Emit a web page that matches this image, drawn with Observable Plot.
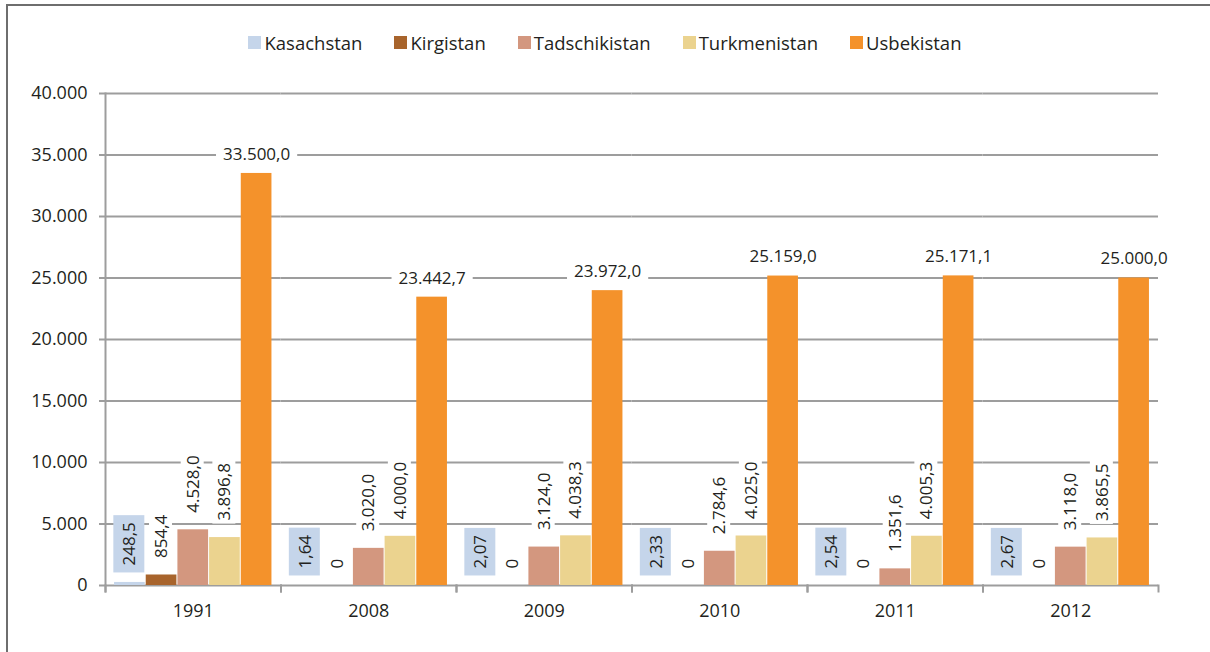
<!DOCTYPE html>
<html>
<head>
<meta charset="utf-8">
<script src="https://cdn.jsdelivr.net/npm/d3@7"></script>
<script src="https://cdn.jsdelivr.net/npm/@observablehq/plot@0.6"></script>
<style>
  html, body { margin: 0; padding: 0; background: #fff; }
  body { width: 1210px; height: 652px; overflow: hidden; position: relative; font-family: "Open Sans", sans-serif; color: #231f20; }
  #border { position: absolute; left: 6px; top: 4px; width: 1400px; height: 900px; border-left: 2px solid #6e6e6e; border-top: 2px solid #6e6e6e; pointer-events: none; }
  #legend { height: 70px; box-sizing: border-box; padding-top: 26px; }
  .lg-swatches { justify-content: center; margin: 0 !important; font-family: "Open Sans", sans-serif !important; font-size: 18.5px !important; color: #231f20 !important; }
  .lg-swatch { margin-right: 32px !important; }
  .lg-swatch:last-child { margin-right: 0 !important; }
  .lg-swatch > svg { margin-right: 3px !important; }
  #chart svg { display: block; }
</style>
</head>
<body>
<div id="legend"></div>
<div id="chart"></div>
<div id="border"></div>
<script>
// ---- Data ----
const years = ["1991", "2008", "2009", "2010", "2011", "2012"];
const countries = ["Kasachstan", "Kirgistan", "Tadschikistan", "Turkmenistan", "Usbekistan"];
const colors = ["#c5d5ea", "#a8642c", "#d3977f", "#ebd38f", "#f4922b"];
const kasachstan = [248.5, 1.64, 2.07, 2.33, 2.54, 2.67];
const kirgistan = [854.4, 0, 0, 0, 0, 0];
const tadschikistan = [4528.0, 3020.0, 3124.0, 2784.6, 1351.6, 3118.0];
const turkmenistan = [3896.8, 4000.0, 4038.3, 4025.0, 4005.3, 3865.5];
const usbekistan = [33500.0, 23442.7, 23972.0, 25159.0, 25171.1, 25000.0];
const yTicks = [0, 5000, 10000, 15000, 20000, 25000, 30000, 35000, 40000];

const series = [kasachstan, kirgistan, tadschikistan, turkmenistan, usbekistan];
const data = [];
years.forEach((year, i) => countries.forEach((country, j) => data.push({year, country, value: series[j][i]})));

const de = d3.formatLocale({decimal: ",", thousands: ".", grouping: [3], currency: ["", " €"]});
const f0 = de.format(",.0f"), f1 = de.format(",.1f"), f2 = de.format(".2f");
const label = d => d.value === 0 ? "0" : d.value < 10 ? f2(d.value) : f1(d.value);

const kasData = data.filter(d => d.country === "Kasachstan");
const midData = data.filter(d => d.country !== "Kasachstan" && d.country !== "Usbekistan");
const usbData = data.filter(d => d.country === "Usbekistan");

const gray = "#9d9d9d";
const ink = "#231f20";

const chart = Plot.plot({
  width: 1210,
  height: 582,
  marginTop: 23,
  marginBottom: 67,
  marginLeft: 105,
  marginRight: 52,
  style: {fontFamily: "Open Sans, sans-serif", fontSize: "18px", color: ink, background: "transparent", overflow: "visible"},
  fx: {domain: years, padding: 0, label: null, axis: null, round: false},
  x: {domain: countries, paddingInner: 0, paddingOuter: 0.27, axis: null, round: false},
  y: {domain: [0, 40000], label: null, axis: null},
  color: {domain: countries, range: colors},
  marks: [
    Plot.gridY(yTicks, {stroke: gray, strokeOpacity: 1, strokeWidth: 2}),
    Plot.frame({anchor: "left", facetAnchor: "left", stroke: gray, strokeWidth: 2, insetBottom: -6}),
    Plot.frame({anchor: "left", stroke: gray, strokeWidth: 2, insetTop: 492, insetBottom: -6}),
    Plot.frame({anchor: "right", stroke: gray, strokeWidth: 2, insetTop: 492, insetBottom: -6}),
    Plot.axisY({ticks: yTicks, tickSize: 6, tickPadding: 12, tickFormat: f0, stroke: gray, strokeWidth: 2, fill: ink, fontSize: 18, label: null}),
    Plot.axisFx({anchor: "bottom", tickSize: 0, tickPadding: 19, fill: ink, fontSize: 18, label: null}),
    Plot.barY(data, {fx: "year", x: "country", y: "value", fill: "country", insetLeft: 0.5, insetRight: 0.5}),
    Plot.text(kasData, {fx: "year", x: "country", y: "value", text: label, rotate: -90, textAnchor: "start", dy: -17, fontSize: 17, fill: ink}),
    Plot.text(midData, {fx: "year", x: "country", y: "value", text: label, rotate: -90, textAnchor: "start", dy: -17, fontSize: 17, fill: ink}),
    Plot.text(usbData, {fx: "year", x: "country", y: "value", text: label, dy: -19, fontSize: 17, fill: ink})
  ]
});
document.getElementById("chart").append(chart);

const legend = Plot.legend({color: {domain: countries, range: colors}, swatchSize: 13, className: "lg"});
document.getElementById("legend").append(legend);

// label backgrounds
const groups = chart.querySelectorAll('g[aria-label="text"]');
const boxes = [
  {fill: colors[0], px: 7, py: 4},
  {fill: "#ffffff", px: 3, py: 0},
  {fill: "#ffffff", px: 7, py: 0}
];
groups.forEach((g, k) => {
  const cfg = boxes[k];
  if (!cfg) return;
  g.querySelectorAll("text").forEach(t => {
    const b = t.getBBox();
    const r = document.createElementNS("http://www.w3.org/2000/svg", "rect");
    r.setAttribute("x", b.x - cfg.px);
    r.setAttribute("y", b.y - cfg.py);
    r.setAttribute("width", b.width + 2 * cfg.px);
    r.setAttribute("height", b.height + 2 * cfg.py);
    r.setAttribute("fill", cfg.fill);
    const tr = t.getAttribute("transform");
    if (tr) r.setAttribute("transform", tr);
    t.parentNode.insertBefore(r, t);
  });
});
</script>
</body>
</html>
